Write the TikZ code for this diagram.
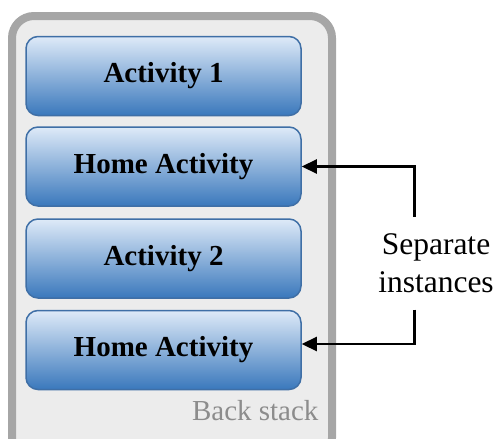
\documentclass[tikz,border=0pt]{standalone}
\usepackage{fontspec}
\setmainfont{Liberation Serif}
\usetikzlibrary{arrows.meta}
\definecolor{stackfill}{HTML}{ECECEC}
\definecolor{stackedge}{HTML}{A6A6A6}
\definecolor{stacktext}{HTML}{8C8C8C}
\definecolor{acttop}{HTML}{DEEAF8}
\definecolor{actbot}{HTML}{3A78BC}
\definecolor{actedge}{HTML}{3F6FA6}
\tikzset{
  actbox/.style={draw=actedge, line width=1.5pt, rounded corners=12pt,
    top color=acttop, bottom color=actbot, minimum width=275pt,
    minimum height=79pt, font=\fontsize{29}{33}\selectfont\bfseries},
  callout/.style={-{Triangle[length=15pt,width=14pt]}, line width=2.2pt},
}
\begin{document}
\begin{tikzpicture}[x=1pt,y=-1pt]
\useasboundingbox (0,0) rectangle (496,439);
% back stack container, its lower edge running off the page
\begin{scope}
\clip (0,0) rectangle (496,439);
\draw[stackedge, fill=stackfill, line width=8pt, rounded corners=22pt]
  (12,16) rectangle (332,460);
\end{scope}
\node[actbox] (a1) at (163.5,76) {Activity 1};
\node[actbox] (h1) at (163.5,166.5) {Home Activity};
\node[actbox] (a2) at (163.5,258.5) {Activity 2};
\node[actbox] (h2) at (163.5,350) {Home Activity};
\node[anchor=base east, text=stacktext, font=\fontsize{29}{29}\selectfont]
  (bs) at (322,420) {Back stack};
% callout label and the two arrows pointing at the home activities
\node[align=center, font=\fontsize{31.5}{38.4}\selectfont, inner sep=0pt]
  (sep) at (436,263) {Separate\\instances};
\coordinate (t1) at (414.5,216.5);
\coordinate (t2) at (414.5,309.5);
\draw[callout] (t1) |- (h1.east);
\draw[callout] (t2) |- ([yshift=6pt]h2.east);
\end{tikzpicture}
\end{document}
